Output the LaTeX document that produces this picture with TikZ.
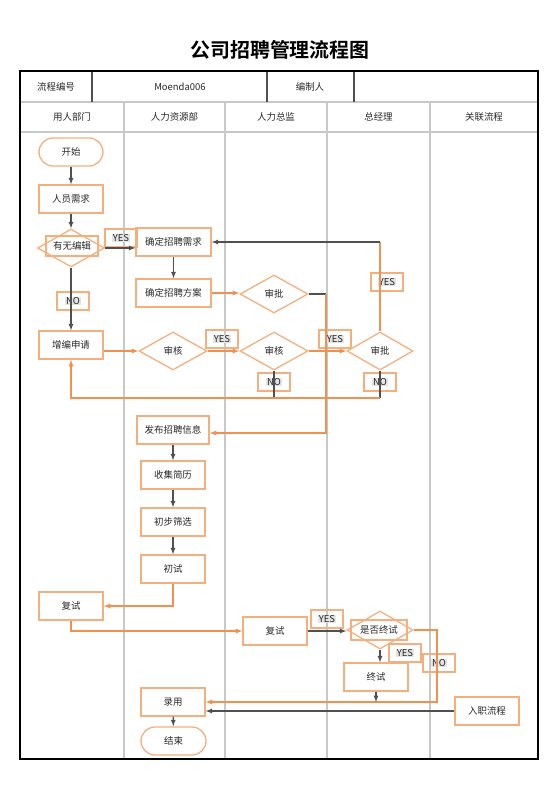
\documentclass[tikz,border=0pt]{standalone}
\usepackage{fontspec}
\setmainfont{Noto Sans CJK SC}[BoldFont={Noto Sans CJK SC Bold}]
\usepackage{tikz}
\usetikzlibrary{calc, arrows, shapes}
\tikzset{>=latex}
\definecolor{myorange}{RGB}{245, 175, 125}
\definecolor{mylineorange}{RGB}{241, 145, 80}
\definecolor{mygray}{RGB}{200, 200, 200}
\definecolor{mydark}{RGB}{80, 80, 80}
\definecolor{myhl}{RGB}{228, 228, 228}
\definecolor{mytext}{RGB}{40, 40, 40}

\begin{document}
\begin{tikzpicture}[x=1bp, y=-1bp,
  flowbox/.style={draw=myorange, line width=1.3bp, minimum width=64bp, minimum height=28bp, inner sep=2bp, text=mytext, font=\fontsize{9.5}{11}\selectfont},
  termbox/.style={flowbox, rounded corners=14bp},
  diabox/.style={diamond, draw=myorange, line width=1.3bp, minimum width=68bp, minimum height=38bp, inner sep=0bp, text=mytext, font=\fontsize{9.5}{11}\selectfont},
  tagbox/.style={fill=myhl, inner sep=0.8bp, text=mytext, font=\fontsize{9.5}{11}\selectfont},
  tagline/.style={draw=myorange, line width=1.3bp},
  hdr/.style={text=mytext, font=\fontsize{9.5}{11}\selectfont},
  lanel/.style={draw=mygray, line width=1.3bp},
  orline/.style={draw=mylineorange, line width=1.3bp},
  dkline/.style={draw=mydark, line width=1.2bp}]
\useasboundingbox (0,0) rectangle (560,792);
\begin{scope}
\foreach \x in {124,225,327,430} \draw[lanel] (\x,102) -- (\x,759);
\draw[lanel] (20,102) -- (538,102);
\draw[lanel, line width=1.8bp] (20,132) -- (538,132);
\foreach \x in {92,267,354} \draw[dkline] (\x,71) -- (\x,102);
\draw[line width=2bp] (20,71) rectangle (538,759);
\end{scope}
\node[font=\fontsize{20}{24}\selectfont\bfseries] (tt) at (280,50) {公司招聘管理流程图};
\node[hdr] (lcbh) at (56,87) {流程编号};
\node[hdr] (bh) at (180,87) {Moenda006};
\node[hdr] (bzr) at (310,87) {编制人};
\node[hdr] (ln1) at (72,117) {用人部门};
\node[hdr] (ln2) at (174.5,117) {人力资源部};
\node[hdr] (ln3) at (276,117) {人力总监};
\node[hdr] (ln4) at (378.5,117) {总经理};
\node[hdr] (ln5) at (484,117) {关联流程};

\node[termbox] (ks) at (71,152) {开始};
\node[flowbox] (ryxq) at (71,199) {人员需求};
\node[diabox, minimum width=67bp] (ywbj) at (71,248) {};
\node[flowbox, minimum width=52bp, minimum height=20bp] (ywbjt) at (72,246) {有无编辑};
\node[flowbox, minimum width=75bp] (qdxq) at (173.5,242) {确定招聘需求};
\node[flowbox, minimum width=75bp] (qdfa) at (173.5,293) {确定招聘方案};
\node[diabox] (sp1) at (274,294) {审批};
\node[flowbox] (zbsq) at (71,345) {增编申请};
\node[diabox] (sh1) at (173,351) {审核};
\node[diabox] (sh2) at (274,351) {审核};
\node[diabox, minimum width=66bp] (sp2) at (380,351) {审批};
\node[flowbox, minimum width=72bp] (fbxx) at (173,430) {发布招聘信息};
\node[flowbox] (sjjl) at (173,475) {收集简历};
\node[flowbox] (cbsx) at (173,522) {初步筛选};
\node[flowbox] (cs) at (173,569) {初试};
\node[flowbox] (fs1) at (71,606) {复试};
\node[flowbox] (fs2) at (275,631) {复试};
\node[diabox, minimum width=66bp] (sfzs) at (380,630) {};
\node[flowbox, minimum width=56bp, minimum height=20bp] (sfzst) at (379,630) {是否终试};
\node[flowbox] (zs) at (376,677) {终试};
\node[flowbox] (rzlc) at (487,711) {入职流程};
\node[flowbox] (ly) at (173,702) {录用};
\node[termbox, minimum width=65bp] (js) at (173.5,741) {结束};

\node[tagbox] (y1) at (121,238) {YES};
\node[tagbox] (n1) at (73,301) {NO};
\node[tagbox] (y2) at (222,339) {YES};
\node[tagbox] (y3) at (335,339) {YES};
\node[tagbox] (y4) at (387,282) {YES};
\node[tagbox] (n2) at (274,382) {NO};
\node[tagbox] (n3) at (380,382) {NO};
\node[tagbox] (y5) at (327,619) {YES};
\node[tagbox] (y6) at (405,653) {YES};
\node[tagbox] (n4) at (439,663) {NO};
\foreach \t in {y1,n1,y2,y3,y4,n2,n3,y5,y6,n4}
  \draw[tagline] ([shift={(-16bp,-9bp)}]\t.center) rectangle ([shift={(16bp,9bp)}]\t.center);

\coordinate (c1) at (326,294);
\coordinate (c3) at (380,398);
\coordinate (c4) at (437,702);
\draw[dkline,->] (ks) -- (ryxq);
\draw[dkline,->] (ryxq) -- (ywbj);
\draw[dkline,->] (ywbj.east) -- (ywbj.east -| qdxq.west);
\draw[dkline,->] (ywbj.south) -- (zbsq.north);
\draw[dkline,->] (qdxq) -- (qdfa);
\draw[orline,->] (qdfa.east) -- (qdfa.east -| sp1.west);
\draw[dkline] (sp1.east) -- (c1);
\draw[orline,->] (c1) |- ([yshift=-3bp]fbxx.east);
\draw[orline,->] (zbsq.east |- sh1.west) -- (sh1.west);
\draw[orline,->] (sh1) -- (sh2);
\draw[orline,->] (sh2) -- (sp2);
\draw[orline] (sp2.north) -- (sp2.north |- qdxq.east);
\draw[dkline,->] (sp2.north |- qdxq.east) -- (qdxq.east);
\draw[dkline] (sh2.south) -- (sh2.south |- c3);
\draw[dkline] (sp2.south) -- (c3);
\draw[orline,->] (c3) -| (zbsq.south);
\draw[dkline,->] (fbxx) -- (sjjl);
\draw[dkline,->] (sjjl) -- (cbsx);
\draw[dkline,->] (cbsx) -- (cs);
\draw[orline,->] (cs.south) |- (fs1.east);
\draw[orline,->] (fs1.south) |- (fs2.west);
\draw[dkline,->] (fs2.east) -- (fs2.east -| sfzs.west);
\draw[dkline,->] (sfzs.south) -- (sfzs.south |- zs.north);
\draw[orline,->] (sfzs.east) -| (c4) -- (c4 -| ly.east);
\draw[dkline,->] (zs.south) -- (zs.south |- c4);
\draw[dkline,->] (rzlc.west) -- (rzlc.west -| ly.east);
\draw[dkline,->] (ly) -- (js);
\end{tikzpicture}
\end{document}
